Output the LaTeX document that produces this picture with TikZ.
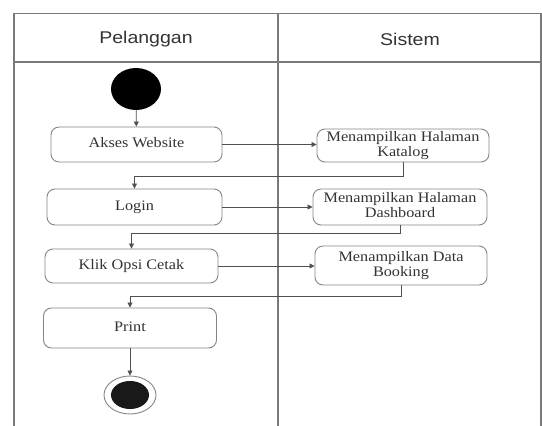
\documentclass[tikz,border=0pt]{standalone}
\usepackage{fontspec}
\usepackage{graphicx}
\setmainfont{Liberation Serif}
\newfontfamily\hdrfont{Liberation Sans}
\usetikzlibrary{shapes.geometric,arrows.meta,calc}
\definecolor{frameC}{HTML}{7A7A7A}
\definecolor{boxC}{HTML}{858585}
\definecolor{lineC}{HTML}{505050}
\definecolor{txtC}{HTML}{333333}
\newcommand{\wtext}[1]{\scalebox{1.12}[1]{\begin{tabular}{@{}c@{}}#1\end{tabular}}}
\newcommand{\htext}[1]{\scalebox{1.15}[1]{#1}}
\tikzset{
  frame/.style={draw=frameC, line width=1.4pt},
  act/.style={draw=boxC, line width=0.9pt, rounded corners=8pt, fill=white,
    inner sep=0pt, text=txtC, font=\fontsize{14.5}{15}\selectfont},
  hdr/.style={text=txtC, font=\hdrfont\fontsize{17}{20}\selectfont, inner sep=0pt},
  arr/.style={draw=lineC, line width=0.8pt, -{Triangle[length=5pt,width=5pt]}},
}
\begin{document}
\begin{tikzpicture}[x=1pt,y=-1pt]
\useasboundingbox (0,0) rectangle (542,426);
% swimlane frame
\draw[frame] (14,426) -- (14,13.5) -- (541,13.5) -- (541,426);
\draw[frame] (14,62) -- (541,62);
\draw[frame] (278,13.5) -- (278,426);
\node[hdr] (h1) at (146,39) {\htext{Pelanggan}};
\node[hdr] (h2) at (410,39) {\htext{Sistem}};
% nodes
\node[ellipse, fill=black, minimum width=50pt, minimum height=42pt, inner sep=0pt] (start) at (136,89) {};
\node[act, minimum width=171pt, minimum height=35pt] (akses) at (136.5,144.5) {\wtext{Akses Website}};
\node[act, minimum width=172pt, minimum height=33pt] (katalog) at (403,145.5) {\wtext{Menampilkan Halaman\\Katalog}};
\node[act, minimum width=175pt, minimum height=36pt] (login) at (134.5,207) {\wtext{Login}};
\node[act, minimum width=174pt, minimum height=36pt] (dash) at (400,207) {\wtext{Menampilkan Halaman\\Dashboard}};
\node[act, minimum width=173pt, minimum height=34pt] (klik) at (131.5,266) {\wtext{Klik Opsi Cetak}};
\node[act, minimum width=172pt, minimum height=39pt] (booking) at (401,265.5) {\wtext{Menampilkan Data\\Booking}};
\node[act, minimum width=173pt, minimum height=40pt] (print) at (130,328) {\wtext{Print}};
\node[ellipse, draw=boxC, line width=0.9pt, minimum width=52pt, minimum height=38pt, inner sep=0pt] (end) at (130,395) {};
\node[ellipse, fill=black!90, minimum width=38pt, minimum height=28pt, inner sep=0pt] (endin) at (130,395) {};
% turning points
\coordinate (t1) at (0,176);
\coordinate (t2) at (0,233);
\coordinate (t3) at (0,296);
% connectors
\draw[arr] (start) -- (akses);
\draw[arr] (akses.east) -- (katalog.west |- akses.east);
\draw[arr] (katalog.south) -- (katalog.south |- t1) -| (login.north);
\draw[arr] (login.east) -- (dash.west |- login.east);
\draw[arr] (dash.south) -- (dash.south |- t2) -| (klik.north);
\draw[arr] (klik.east) -- (booking.west |- klik.east);
\draw[arr] (booking.south) -- (booking.south |- t3) -| (print.north);
\draw[arr] (print.south) -- (end.north);
\end{tikzpicture}
\end{document}
